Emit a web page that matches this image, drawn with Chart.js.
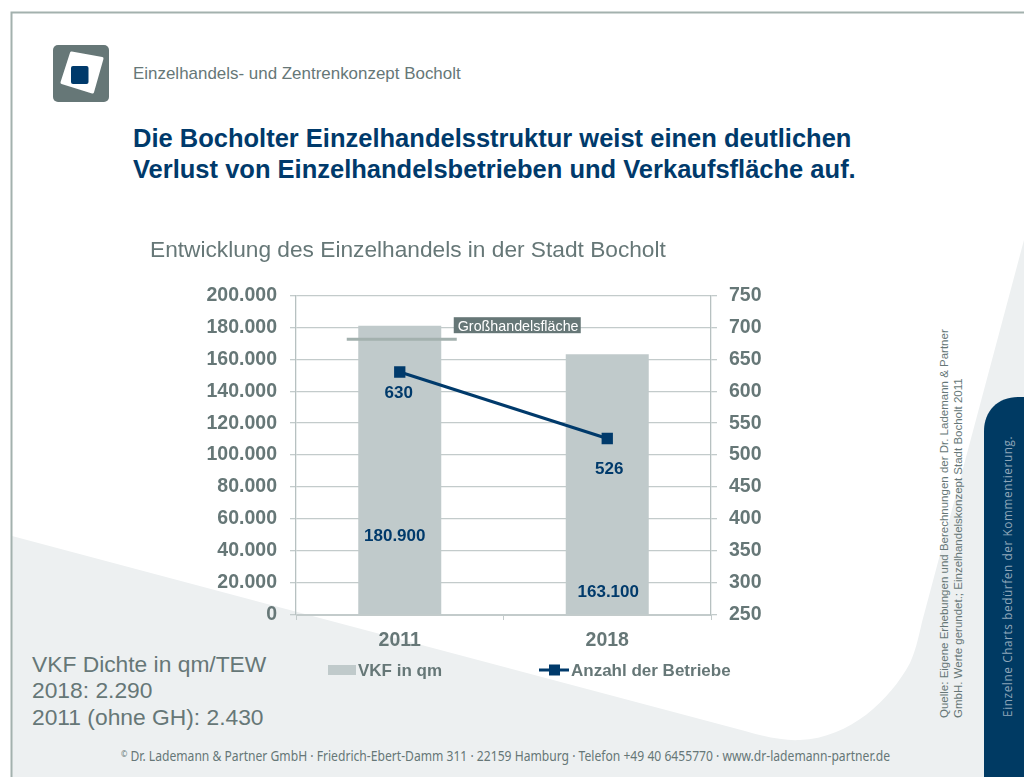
<!DOCTYPE html>
<html lang="de">
<head>
<meta charset="utf-8">
<title>Entwicklung des Einzelhandels in der Stadt Bocholt</title>
<script src="https://cdn.jsdelivr.net/npm/chart.js@4"></script>
<style>
  html, body { margin: 0; padding: 0; background: #fff; }
  #page { position: relative; width: 1024px; height: 777px; overflow: hidden; font-family: "Liberation Sans", Arial, sans-serif; }
  #page svg, #page canvas { position: absolute; left: 0; top: 0; }
</style>
</head>
<body>
<div id="page">
  <svg width="1024" height="777" viewBox="0 0 1024 777">
    <!-- hintergrund -->
    <path d="M12 536 L745 731 C765 737 785 741 800 740 C850 738 890 700 910 663 C915 652 918 640 922 622 L1024 240 L1024 777 L12 777 Z" fill="#edf0f1"/>
    <path d="M11.5 777 L11.5 12.5 L1024 12.5" fill="none" stroke="#a3b1ae" stroke-width="2"/>

    <!-- logo -->
    <rect x="53" y="45" width="56" height="57" rx="5" fill="#667777"/>
    <path d="M71.5 53 L102 58.5 L92.5 92 L62 82.5 Z" fill="#fff" stroke="#fff" stroke-width="3" stroke-linejoin="round"/>
    <rect x="71" y="66" width="17.5" height="18" rx="2" fill="#003a6b"/>

    <!-- kopf -->
    <text x="133" y="79" font-size="16.95" fill="#667777">Einzelhandels- und Zentrenkonzept Bocholt</text>
    <text x="133" y="147" font-size="25.5" font-weight="bold" fill="#003a6b">Die Bocholter Einzelhandelsstruktur weist einen deutlichen</text>
    <text x="133" y="178" font-size="25.5" font-weight="bold" fill="#003a6b">Verlust von Einzelhandelsbetrieben und Verkaufsfläche auf.</text>

    <!-- dichte -->
    <text x="32" y="672" font-size="22.8" fill="#667777">VKF Dichte in qm/TEW</text>
    <text x="32" y="698" font-size="22.8" fill="#667777">2018: 2.290</text>
    <text x="32" y="725" font-size="22.8" fill="#667777">2011 (ohne GH): 2.430</text>

    <!-- quelle -->
    <g font-size="11.5" fill="#667777">
      <text transform="translate(948 718) rotate(-90)">Quelle: Eigene Erhebungen und Berechnungen der Dr. Lademann &amp; Partner</text>
      <text transform="translate(961.5 718) rotate(-90)">GmbH. Werte gerundet.; Einzelhandelskonzept Stadt Bocholt 2011</text>
    </g>

    <!-- seitenleiste -->
    <path d="M1024 397 L1018 397 C998 397 984 411 984 431 L984 777 L1024 777 Z" fill="#003a63"/>
    <text transform="translate(1012 717) rotate(-90)" font-family="Open Sans" font-size="11.7" letter-spacing="0.64" fill="#8fa6b9">Einzelne Charts bedürfen der Kommentierung.</text>

    <!-- fusszeile -->
    <text x="121" y="761" font-family="Noto Sans" font-size="13.5" fill="#667777" textLength="769" lengthAdjust="spacingAndGlyphs"><tspan font-size="8.5" dy="-4">©</tspan><tspan dy="4"> Dr. Lademann &amp; Partner GmbH · Friedrich-Ebert-Damm 311 · 22159 Hamburg · Telefon +49 40 6455770 · www.dr-lademann-partner.de</tspan></text>
  </svg>
  <canvas id="chart" width="1024" height="777"></canvas>
</div>

<script>
const years = ['2011', '2018'];
const vkfInQm = [180900, 163100];
const anzahlBetriebe = [630, 526];
const grosshandelFlaeche = 172500; // Marke fuer die Grosshandelsflaeche, Wert auf der linken Achse
const grosshandelLabel = 'Großhandelsfläche';

const GREY = '#667777';
const BLUE = '#003a6b';
const BAR = '#c0cacb';
const GRID = '#c3cbcb';
const AXIS_FONT = { family: 'Liberation Sans', size: 19.5, weight: 'bold' };

const deNumber = (v) => v.toLocaleString('de-DE');

// Werte an den Saeulen und an der Linie, Versatz in Pixel je Jahr
const valueLabels = {
  id: 'valueLabels',
  afterDatasetsDraw(chart) {
    const { ctx } = chart;
    const barOffsets = [[-5, -78.5], [1, -22.5]]; // ab Saeulenfuss
    const lineOffsets = [[-1, 21], [2, 31]]; // ab Punkt
    ctx.save();
    ctx.font = 'bold 17px "Liberation Sans"';
    ctx.fillStyle = BLUE;
    ctx.textAlign = 'center';
    ctx.textBaseline = 'middle';
    chart.getDatasetMeta(0).data.forEach((bar, i) => {
      ctx.fillText(deNumber(vkfInQm[i]), bar.x + barOffsets[i][0], bar.base + barOffsets[i][1]);
    });
    chart.getDatasetMeta(1).data.forEach((pt, i) => {
      ctx.fillText(String(anzahlBetriebe[i]), pt.x + lineOffsets[i][0], pt.y + lineOffsets[i][1]);
    });
    ctx.restore();
  }
};

// Linie und Schild Grosshandelsflaeche ueber der ersten Saeule
const wholesaleMark = {
  id: 'wholesaleMark',
  afterDatasetsDraw(chart) {
    const { ctx } = chart;
    const y = chart.scales.y.getPixelForValue(grosshandelFlaeche);
    const x = chart.getDatasetMeta(0).data[0].x;
    ctx.save();
    ctx.strokeStyle = '#a3b1ae';
    ctx.lineWidth = 3;
    ctx.beginPath();
    ctx.moveTo(x - 53, y);
    ctx.lineTo(x + 57, y);
    ctx.stroke();
    ctx.fillStyle = GREY;
    ctx.fillRect(x + 54, y - 22, 127, 16);
    ctx.fillStyle = '#fff';
    ctx.font = '14.3px "Liberation Sans"';
    ctx.textBaseline = 'middle';
    ctx.fillText(grosshandelLabel, x + 58, y - 12.5);
    ctx.restore();
  }
};

// Legende unter der Achse
const seriesKey = {
  id: 'seriesKey',
  afterDraw(chart) {
    const { ctx } = chart;
    const y = 670;
    ctx.save();
    ctx.font = 'bold 17px "Liberation Sans"';
    ctx.textBaseline = 'middle';

    ctx.fillStyle = BAR;
    ctx.fillRect(328, y - 5, 28, 10);
    ctx.fillStyle = GREY;
    ctx.fillText(chart.data.datasets[0].label, 358, y + 1);

    ctx.strokeStyle = BLUE;
    ctx.lineWidth = 3;
    ctx.beginPath();
    ctx.moveTo(539, y);
    ctx.lineTo(569, y);
    ctx.stroke();
    ctx.fillStyle = BLUE;
    ctx.fillRect(549, y - 5.5, 11, 11);
    ctx.fillStyle = GREY;
    ctx.fillText(chart.data.datasets[1].label, 571, y + 1);
    ctx.restore();
  }
};

new Chart(document.getElementById('chart'), {
  data: {
    labels: years,
    datasets: [
      {
        type: 'bar',
        label: 'VKF in qm',
        data: vkfInQm,
        yAxisID: 'y',
        backgroundColor: BAR,
        categoryPercentage: 1,
        barPercentage: 0.4,
        order: 2
      },
      {
        type: 'line',
        label: 'Anzahl der Betriebe',
        data: anzahlBetriebe,
        yAxisID: 'y1',
        borderColor: BLUE,
        borderWidth: 3,
        backgroundColor: BLUE,
        pointStyle: 'rect',
        pointRadius: 8,
        pointBorderWidth: 0,
        tension: 0,
        order: 1
      }
    ]
  },
  options: {
    responsive: false,
    animation: false,
    layout: { padding: { left: 150, right: 250, top: 237, bottom: 130 } },
    plugins: {
      legend: { display: false },
      tooltip: { enabled: false },
      title: {
        display: true,
        text: 'Entwicklung des Einzelhandels in der Stadt Bocholt',
        align: 'start',
        color: GREY,
        font: { family: 'Liberation Sans', size: 22.7, weight: 'normal' },
        padding: { top: 0, bottom: 31 }
      }
    },
    scales: {
      x: {
        grid: { drawOnChartArea: false, color: GRID, tickLength: 5 },
        border: { color: GRID },
        ticks: { color: GREY, font: AXIS_FONT, padding: 9, maxRotation: 0 },
        afterFit(scale) { scale.height = 32; }
      },
      y: {
        position: 'left',
        min: 0,
        max: 200000,
        grid: { color: GRID, lineWidth: 1.3, tickLength: 6 },
        border: { color: '#b7c1c1', width: 1.3 },
        ticks: { stepSize: 20000, color: GREY, font: AXIS_FONT, padding: 13, callback: deNumber },
        afterFit(scale) { scale.width = 146; }
      },
      y1: {
        position: 'right',
        min: 250,
        max: 750,
        grid: { drawOnChartArea: false, color: GRID, lineWidth: 1.3, tickLength: 6 },
        border: { color: '#b7c1c1', width: 1.3 },
        ticks: { stepSize: 50, color: GREY, font: AXIS_FONT, padding: 12 },
        afterFit(scale) { scale.width = 63; }
      }
    }
  },
  plugins: [valueLabels, wholesaleMark, seriesKey]
});
</script>
</body>
</html>
